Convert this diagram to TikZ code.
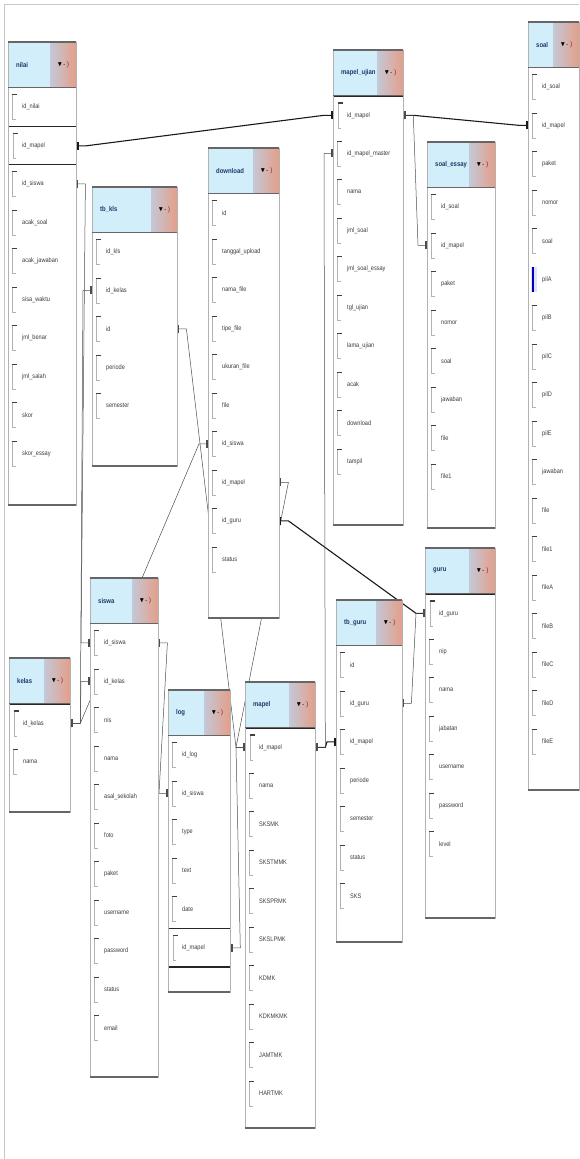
\documentclass[tikz,border=0pt]{standalone}
\usepackage{fontspec}
\usepackage{amssymb}
\usetikzlibrary{arrows.meta}
\newfontfamily\dbfont[FakeStretch=0.85]{Liberation Sans}
\definecolor{hdrblue}{RGB}{210,238,251}
\definecolor{btngray}{RGB}{196,200,214}
\definecolor{btnred}{RGB}{228,158,136}
\definecolor{ttlblue}{RGB}{28,56,104}
\definecolor{fldgray}{RGB}{60,60,60}
\pgfdeclarelayer{bg}
\pgfdeclarelayer{tbl}
\pgfdeclarelayer{fg}
\pgfsetlayers{bg,tbl,main,fg}
\newcommand\hdrbtn{$\blacktriangledown$\kern1pt-\kern2pt\textcolor{red!60!black}{)}}

\begin{document}
\begin{tikzpicture}[x=1pt, y=-1pt,
    font=\dbfont\fontsize{6.6}{7.5}\selectfont,
    hdr/.style={anchor=north west, minimum width=\tw, minimum height=45pt, inner sep=0pt, fill=hdrblue},
    ttl/.style={anchor=west, xshift=8pt, inner sep=0pt, text=ttlblue, font=\dbfont\bfseries\fontsize{7}{8}\selectfont},
    btn/.style={anchor=east, inner sep=0pt, minimum width=26pt, minimum height=43pt, left color=btngray, right color=btnred},
    fld/.style={anchor=north west, minimum width=\tw, minimum height=38.5pt, inner sep=0pt, fill=white,
        path picture={
            \draw[black!30, line width=0.5pt] ([xshift=4.5pt,yshift=-7pt]path picture bounding box.north west) -- ++(0,-25pt) -- ++(3pt,0);
            \draw[black!75, line width=1.2pt] ([xshift=4pt,yshift=-7pt]path picture bounding box.north west) -- ++(5pt,0);
        }},
    keyfld/.style={fld, draw=black!85, line width=1.3pt},
    selfld/.style={fld,
        path picture={
            \fill[blue!12] ([xshift=3pt,yshift=-7pt]path picture bounding box.north west) rectangle ++(6pt,-25pt);
            \draw[blue!70!black, line width=2pt] ([xshift=4.5pt,yshift=-7pt]path picture bounding box.north west) -- ++(0,-25pt);
        }},
    fname/.style={anchor=west, xshift=14pt, inner sep=0pt, text=fldgray},
    rim/.style={draw=black!30, line width=0.6pt},
    edge/.style={draw=black!60, line width=1.2pt},
    rel/.style={draw=black!70, line width=0.5pt, {Bar[width=8pt,line width=1.6pt]}-{Bar[width=8pt,line width=1.6pt]}},
    relb/.style={rel, draw=black!90, line width=1.1pt}
]
\useasboundingbox (0,0) rectangle (579,1159);
\draw[black!22, line width=1pt] (4,1159) -- (4,4) -- (579,4);

% nilai
\def\tw{68pt}
\node[hdr, label={[ttl]west:nilai}, label={[btn]east:\hdrbtn}] (nilai) at (8,42) {};
\foreach \f/\s [count=\i] in {id\_nilai/fld, id\_mapel/keyfld, id\_siswa/fld, acak\_soal/fld, acak\_jawaban/fld, sisa\_waktu/fld, jml\_benar/fld, jml\_salah/fld, skor/fld, skor\_essay/fld}
    \node[\s, label={[fname]west:\f}] (nilai-\i) at ([yshift={-(\i-1)*38.5pt}]nilai.south west) {};

% tb_kls
\def\tw{85pt}
\node[hdr, label={[ttl]west:tb\_kls}, label={[btn]east:\hdrbtn}] (tbkls) at (92,187) {};
\foreach \f/\s [count=\i] in {id\_kls/fld, id\_kelas/fld, id/fld, periode/fld, semester/fld}
    \node[\s, label={[fname]west:\f}] (tbkls-\i) at ([yshift={-(\i-1)*38.5pt}]tbkls.south west) {};

% download
\def\tw{71pt}
\node[hdr, label={[ttl]west:download}, label={[btn]east:\hdrbtn}] (download) at (208,148) {};
\foreach \f/\s [count=\i] in {id/fld, tanggal\_upload/fld, nama\_file/fld, tipe\_file/fld, ukuran\_file/fld, file/fld, id\_siswa/fld, id\_mapel/fld, id\_guru/fld, status/fld}
    \node[\s, label={[fname]west:\f}] (download-\i) at ([yshift={-(\i-1)*38.5pt}]download.south west) {};

% mapel_ujian
\def\tw{70pt}
\node[hdr, label={[ttl]west:mapel\_ujian}, label={[btn]east:\hdrbtn}] (mapelguru) at (333,50) {};
\foreach \f/\s [count=\i] in {id\_mapel/keyfld, id\_mapel\_master/fld, nama/fld, jml\_soal/fld, jml\_soal\_essay/fld, tgl\_ujian/fld, lama\_ujian/fld, acak/fld, download/fld, tampil/fld}
    \node[\s, label={[fname]west:\f}] (mapelguru-\i) at ([yshift={-(\i-1)*38.5pt}]mapelguru.south west) {};

% soal_essay
\def\tw{68pt}
\node[hdr, label={[ttl]west:soal\_essay}, label={[btn]east:\hdrbtn}] (soalessay) at (427,142) {};
\foreach \f/\s [count=\i] in {id\_soal/fld, id\_mapel/fld, paket/fld, nomor/fld, soal/fld, jawaban/fld, file/fld, file1/fld}
    \node[\s, label={[fname]west:\f}] (soalessay-\i) at ([yshift={-(\i-1)*38.5pt}]soalessay.south west) {};

% soal
\def\tw{51pt}
\node[hdr, label={[ttl]west:soal}, label={[btn]east:\hdrbtn}] (soal) at (528,22) {};
\foreach \f/\s [count=\i] in {id\_soal/fld, id\_mapel/fld, paket/fld, nomor/fld, soal/fld, pilA/selfld, pilB/fld, pilC/fld, pilD/fld, pilE/fld, jawaban/fld, file/fld, file1/fld, fileA/fld, fileB/fld, fileC/fld, fileD/fld, fileE/fld}
    \node[\s, label={[fname]west:\f}] (soal-\i) at ([yshift={-(\i-1)*38.5pt}]soal.south west) {};

% guru
\def\tw{70pt}
\node[hdr, label={[ttl]west:guru}, label={[btn]east:\hdrbtn}] (guru) at (425,548) {};
\foreach \f/\s [count=\i] in {id\_guru/keyfld, nip/fld, nama/fld, jabatan/fld, username/fld, password/fld, level/fld}
    \node[\s, label={[fname]west:\f}] (guru-\i) at ([yshift={-(\i-1)*38.5pt}]guru.south west) {};

% tb_guru
\def\tw{66pt}
\node[hdr, label={[ttl]west:tb\_guru}, label={[btn]east:\hdrbtn}] (tbguru) at (336,600) {};
\foreach \f/\s [count=\i] in {id/fld, id\_guru/fld, id\_mapel/fld, periode/fld, semester/fld, status/fld, SKS/fld}
    \node[\s, label={[fname]west:\f}] (tbguru-\i) at ([yshift={-(\i-1)*38.5pt}]tbguru.south west) {};

% kelas
\def\tw{61pt}
\node[hdr, label={[ttl]west:kelas}, label={[btn]east:\hdrbtn}] (kelas) at (9,658) {};
\foreach \f/\s [count=\i] in {id\_kelas/keyfld, nama/fld}
    \node[\s, label={[fname]west:\f}] (kelas-\i) at ([yshift={-(\i-1)*38.5pt}]kelas.south west) {};

% siswa
\def\tw{68pt}
\node[hdr, label={[ttl]west:siswa}, label={[btn]east:\hdrbtn}] (siswa) at (90,578) {};
\foreach \f/\s [count=\i] in {id\_siswa/fld, id\_kelas/fld, nis/fld, nama/fld, asal\_sekolah/fld, foto/fld, paket/fld, username/fld, password/fld, status/fld, email/fld}
    \node[\s, label={[fname]west:\f}] (siswa-\i) at ([yshift={-(\i-1)*38.5pt}]siswa.south west) {};

% log
\def\tw{62pt}
\node[hdr, label={[ttl]west:log}, label={[btn]east:\hdrbtn}] (log) at (168,690) {};
\foreach \f/\s [count=\i] in {id\_log/fld, id\_siswa/fld, type/fld, text/fld, date/fld, id\_mapel/keyfld}
    \node[\s, label={[fname]west:\f}] (log-\i) at ([yshift={-(\i-1)*38.5pt}]log.south west) {};

% mapel
\def\tw{70pt}
\node[hdr, label={[ttl]west:mapel}, label={[btn]east:\hdrbtn}] (mapel) at (245,682) {};
\foreach \f/\s [count=\i] in {id\_mapel/keyfld, nama/fld, SKSMK/fld, SKSTMMK/fld, SKSPRMK/fld, SKSLPMK/fld, KDMK/fld, KDKMKMK/fld, JAMTMK/fld, HARTMK/fld}
    \node[\s, label={[fname]west:\f}] (mapel-\i) at ([yshift={-(\i-1)*38.5pt}]mapel.south west) {};

% table frames
\def\tbls{nilai/505, tbkls/466, download/618, mapelguru/525, soalessay/528, soal/790, guru/918, tbguru/942, kelas/812, siswa/1077, log/992, mapel/1128}
\begin{pgfonlayer}{tbl}
\foreach \t/\b in \tbls
    \fill[white] (\t.north west) rectangle (\t.east |- 0,\b);
\end{pgfonlayer}
\begin{pgfonlayer}{fg}
\foreach \t/\b in \tbls {
    \draw[rim] (\t.north west) rectangle (\t.east |- 0,\b);
    \draw[edge] (\t.north west) -- (\t.north east) (\t.south west) -- (\t.south east) (\t.west |- 0,\b) -- (\t.east |- 0,\b);
}
\end{pgfonlayer}

% relations
\begin{pgfonlayer}{bg}
\draw[relb] (nilai-2.east) -- ++(9pt,0) -- ([xshift=-9pt]mapelguru-1.west) -- (mapelguru-1.west);
\draw[relb] (mapelguru-1.east) -- ++(9pt,0) -- ([xshift=-9pt]soal-2.west) -- (soal-2.west);
\draw[rel] (mapelguru-1.east) -- ++(9pt,0) -- ([xshift=-9pt]soalessay-2.west) -- (soalessay-2.west);
\draw[rel] (nilai-3.east) -- ++(9pt,0) -- ([xshift=-9pt]siswa-1.west) -- (siswa-1.west);
\draw[rel] (tbkls-2.west) -- ++(-9pt,0) -- ([xshift=9pt]kelas-1.east) -- (kelas-1.east);
\draw[rel] (siswa-2.west) -- ++(-9pt,0) -- ([xshift=9pt]kelas-1.east) -- (kelas-1.east);
\draw[rel] (tbkls-3.east) -- ++(9pt,0) -- ([xshift=-9pt]mapel-1.west) -- (mapel-1.west);
\draw[rel] (download-7.west) -- ++(-9pt,0) -- ([xshift=9pt]kelas-1.east) -- (kelas-1.east);
\draw[rel] (log-2.west) -- ++(-9pt,0) -- ([xshift=9pt]siswa-1.east) -- (siswa-1.east);
\draw[rel] (download-8.east) -- ++(9pt,0) -- ([xshift=-9pt]mapel-1.west) -- (mapel-1.west);
\draw[relb] (download-9.east) -- ++(9pt,0) -- ([xshift=-9pt]guru-1.west) -- (guru-1.west);
\draw[rel] (tbguru-2.east) -- ++(9pt,0) -- ([xshift=-9pt]guru-1.west) -- (guru-1.west);
\draw[relb] (tbguru-3.west) -- ++(-9pt,0) -- ([xshift=9pt]mapel-1.east) -- (mapel-1.east);
\draw[rel] (mapelguru-2.west) -- ++(-9pt,0) -- ([xshift=9pt]mapel-1.east) -- (mapel-1.east);
\draw[rel] (log-6.east) -- ++(9pt,0) -- ([xshift=-9pt]mapel-1.west) -- (mapel-1.west);
\end{pgfonlayer}
\end{tikzpicture}
\end{document}
